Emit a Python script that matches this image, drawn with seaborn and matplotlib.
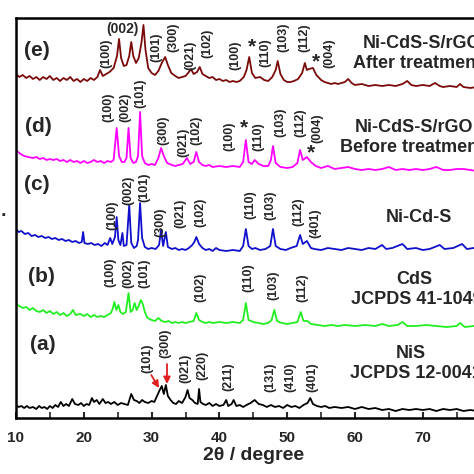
import matplotlib
matplotlib.use("Agg")
import matplotlib.pyplot as plt
import seaborn as sns
import numpy as np

# ---------------- data (arbitrary stacked intensity) ----------------
tt_e = [10.0,10.5,11.0,11.5,12.0,12.5,13.0,13.5,14.0,14.5,15.0,15.5,16.0,16.5,17.0,17.5,18.0,18.5,19.0,19.5,
        20.0,20.5,21.0,21.5,22.0,22.4,22.8,23.3,23.8,24.4,24.9,25.2,25.5,25.9,26.3,26.7,27.0,27.3,27.7,28.1,
        28.5,28.8,29.1,29.5,30.0,30.5,31.0,31.5,32.0,32.4,32.9,33.5,34.0,34.5,35.0,35.5,35.8,36.2,36.7,37.1,
        37.5,38.0,38.5,39.0,39.5,40.0,40.5,41.0,41.5,42.0,42.5,43.0,43.6,44.0,44.4,44.8,45.3,46.0,46.6,47.2,
        47.8,48.3,48.6,49.0,49.5,50.0,50.5,51.0,51.6,52.2,52.6,52.9,53.2,53.8,54.3,55.0,55.5,56.0,56.5,57.0,
        57.5,58.0,58.5,59.0,59.5,60.0,61.0,62.0,63.0,64.0,65.0,66.0,67.0,67.7,68.3,69.0,70.0,71.0,71.8,72.5,
        73.0,74.0,75.0,75.5,76.0,77.0,78.0,79.0,80.0]
int_e = [344,341,343,340,342,339,341,338,341,339,342,338,340,337,340,338,341,337,339,336,
         339,337,340,338,341,348,342,344,346,350,362,379,360,352,353,362,376,362,355,360,
         375,393,368,350,345,343,347,355,361,353,345,342,340,341,342,346,349,344,346,351,
         344,342,340,341,338,339,337,338,336,337,336,337,341,348,361,345,340,341,338,337,
         341,348,357,344,338,336,336,337,339,345,355,348,349,350,343,338,336,335,334,335,
         334,335,336,339,335,333,334,332,333,332,333,332,334,337,333,332,333,332,335,332,
         331,332,331,334,331,330,331,330,330]

tt_d = [10.0,10.3,10.7,11.2,11.8,12.5,13.0,13.5,14.0,14.5,15.0,15.5,16.0,16.5,17.0,17.5,18.0,18.5,19.0,19.5,
        20.0,20.5,21.0,21.5,22.0,22.5,23.0,23.5,24.0,24.4,24.85,25.2,25.6,26.0,26.3,26.6,26.9,27.3,27.7,28.0,
        28.3,28.6,29.0,29.5,30.0,30.5,31.0,31.4,31.8,32.3,33.0,33.5,34.0,34.6,35.2,35.7,36.2,36.6,37.0,37.5,
        38.0,38.5,39.0,40.0,41.0,42.0,43.0,43.5,43.9,44.3,44.8,45.2,45.8,46.5,47.2,47.6,47.9,48.3,49.0,50.0,
        50.8,51.5,51.9,52.3,52.9,53.5,54.2,55.0,56.0,57.0,58.0,59.0,60.0,61.0,62.0,63.0,64.0,65.0,66.0,67.0,
        68.0,69.0,70.0,71.0,72.0,73.0,74.0,75.0,76.0,77.0,78.0,79.0,80.0]
int_d = [268,266,264,262,261,260,261,259,260,258,259,258,259,257,258,256,258,256,257,255,
         257,255,256,258,256,257,255,257,256,258,290,262,256,256,260,290,260,255,256,262,
         306,262,255,253,254,253,260,270,262,255,253,252,253,254,260,254,256,266,256,253,
         252,253,251,252,251,252,251,256,278,256,254,258,254,252,252,258,272,255,251,250,
         251,255,268,258,261,256,252,250,252,249,250,251,249,248,249,248,249,251,248,249,
         248,249,248,249,251,248,248,249,249,248,247,248,247]

tt_c = [10.0,10.4,10.8,11.3,11.8,12.3,12.8,13.3,13.8,14.3,14.8,15.3,15.8,16.3,16.8,17.3,17.8,18.3,18.8,19.3,
        19.7,19.9,20.1,20.6,21.1,21.6,22.1,22.6,23.1,23.5,23.9,24.2,24.6,24.85,25.1,25.4,25.7,25.9,26.3,26.7,
        27.0,27.4,27.8,28.0,28.3,28.6,29.0,29.5,30.0,30.6,31.1,31.4,31.7,32.1,32.4,33.0,33.5,34.0,34.5,35.0,
        35.5,36.0,36.3,36.6,37.0,37.5,38.0,38.5,39.0,39.5,40.0,41.0,42.0,43.0,43.5,43.9,44.3,44.8,45.3,46.0,
        46.8,47.5,47.9,48.3,49.0,49.8,50.5,51.4,51.9,52.3,52.9,53.5,54.0,55.0,56.0,57.0,58.0,59.0,60.0,61.0,
        62.0,63.0,64.0,64.6,65.5,67.0,67.7,69.0,70.0,71.0,72.5,73.2,74.5,75.8,76.5,77.5,78.5,80.0]
int_c = [189,186,187,184,185,182,183,181,182,180,181,179,180,178,179,177,178,176,177,175,
         176,186,175,174,175,173,174,172,175,173,180,174,181,201,178,173,185,172,173,213,
         175,170,172,178,215,180,171,169,170,169,173,188,172,186,171,169,170,168,169,168,
         170,173,176,181,174,170,168,169,167,170,168,167,168,167,172,189,172,169,170,168,
         169,172,189,172,169,168,170,172,183,174,177,170,169,168,170,169,168,170,169,168,
         170,169,173,169,170,174,169,170,168,169,173,169,170,174,169,170,169,169]

tt_b = [10.0,10.5,11.0,11.5,12.0,12.5,13.0,13.5,14.0,14.5,15.0,15.5,16.0,16.5,17.0,17.5,18.0,18.4,18.8,19.5,
        20.0,20.5,21.0,21.5,22.0,22.5,23.0,23.5,24.0,24.3,24.5,24.8,25.1,25.4,25.8,26.2,26.6,26.9,27.2,27.5,
        27.8,28.1,28.4,28.7,29.0,29.4,30.0,30.5,31.0,31.5,32.0,32.5,33.0,33.5,34.0,34.5,35.0,35.5,36.2,36.6,
        37.0,37.5,38.0,38.5,39.0,40.0,41.0,42.0,43.0,43.5,43.9,44.3,45.0,45.8,46.5,47.2,47.7,48.1,48.5,49.2,
        50.0,50.8,51.5,52.0,52.4,53.0,53.5,54.5,55.5,56.5,57.5,58.5,60.0,61.5,63.0,64.0,65.0,66.3,67.0,67.7,
        69.0,70.5,72.0,73.5,75.0,75.5,76.2,77.5,79.0,80.0]
int_b = [114,112,110,111,108,110,107,106,108,105,107,104,106,103,105,102,104,108,103,104,
         102,104,101,103,101,102,101,103,105,110,116,108,113,106,104,106,125,106,108,115,
         108,112,118,114,106,100,98,97,100,97,96,97,95,96,95,96,95,96,97,105,
         98,96,95,96,95,96,95,96,95,98,115,98,96,95,94,95,98,108,97,95,
         94,95,96,106,97,97,94,93,92,93,92,93,92,93,92,94,92,93,96,92,
         92,93,92,91,92,95,91,92,91,91]

tt_a = [10.0,10.4,10.8,11.2,11.6,12.0,12.5,13.0,13.4,13.8,14.2,14.6,15.0,15.4,15.8,16.2,16.6,17.0,17.4,17.8,
        18.3,18.7,19.2,19.6,20.0,20.4,20.8,21.2,21.5,21.9,22.3,22.8,23.2,23.6,24.0,24.5,25.0,25.5,26.0,26.5,
        27.0,27.4,27.8,28.2,28.6,29.0,29.5,30.0,30.4,30.8,31.2,31.5,31.8,32.1,32.4,32.8,33.2,33.6,34.0,34.5,
        35.0,35.3,35.6,36.0,36.4,36.8,37.0,37.2,37.6,38.0,38.5,39.0,39.5,40.0,40.6,41.0,41.3,41.8,42.1,42.5,
        43.0,43.5,44.0,44.6,45.2,45.8,46.4,47.0,47.6,48.2,48.8,49.4,50.0,50.6,51.2,51.8,52.4,53.0,53.4,53.8,
        54.4,55.0,55.6,56.2,57.0,58.0,59.0,60.0,61.0,62.0,63.0,64.0,65.0,66.0,67.0,68.0,69.0,70.0,71.0,72.0,
        73.0,74.0,75.0,76.0,77.0,78.0,79.0,80.0]
int_a = [13,11,12,10,12,10,11,9,12,10,11,9,12,10,13,11,16,12,14,12,
         19,14,13,15,12,14,13,20,16,18,14,19,15,16,14,16,13,15,14,13,
         24,18,17,15,18,16,15,17,16,22,28,32,24,33,22,18,15,14,17,15,
         21,28,20,18,15,14,29,16,14,13,15,12,14,12,13,18,12,14,18,12,
         13,11,13,15,18,14,13,11,13,11,12,10,13,11,12,10,13,15,20,14,
         12,11,12,10,11,10,11,9,11,9,10,8,9,7,9,8,9,8,9,7,
         9,8,9,7,8,7,8,7]

series_colors = ["#000000", "#22EE22", "#1010CC", "#FF00FF", "#7A0A0A"]

panel_tags = ["(a)", "(b)", "(c)", "(d)", "(e)"]
sample_lines = [["NiS", "JCPDS 12-0041"],
                ["CdS", "JCPDS 41-1049"],
                ["Ni-Cd-S"],
                ["Ni-CdS-S/rGO", "Before treatment"],
                ["Ni-CdS-S/rGO", "After treatment"]]

# Miller index labels: (text, 2theta, y)
hkl_a = [("(101)", 29.32, 60), ("(300)", 31.98, 75), ("(021)", 34.93, 50), ("(220)", 37.43, 53),
         ("(211)", 41.27, 41), ("(131)", 47.46, 41), ("(410)", 50.41, 41), ("(401)", 53.66, 41)]
hkl_b = [("(100)", 23.86, 146), ("(002)", 26.52, 145), ("(101)", 28.88, 145), ("(102)", 37.14, 131),
         ("(110)", 44.22, 140), ("(103)", 47.91, 133), ("(112)", 52.18, 130)]
hkl_c = [("(100)", 24.26, 203), ("(002)", 26.52, 228), ("(101)", 28.88, 231), ("(300)", 31.24, 196),
         ("(021)", 34.19, 205), ("(102)", 37.14, 206), ("(110)", 44.51, 213), ("(103)", 47.46, 213),
         ("(112)", 51.59, 206), ("(401)", 54.10, 195)]
hkl_d = [("(100)", 23.57, 311), ("(002)", 26.08, 311), ("(101)", 28.29, 325), ("(300)", 31.73, 288),
         ("(021)", 34.68, 276), ("(102)", 36.65, 288), ("(100)", 41.42, 282), ("(110)", 45.69, 281),
         ("(103)", 48.94, 296), ("(112)", 51.89, 295), ("(004)", 54.40, 290)]
hkl_e = [("(100)", 23.38, 365), ("(101)", 30.65, 371), ("(300)", 33.16, 381), ("(021)", 35.66, 363),
         ("(102)", 38.17, 375), ("(100)", 42.30, 363), ("(110)", 46.73, 365), ("(103)", 49.38, 381),
         ("(112)", 52.48, 380), ("(004)", 56.17, 365)]
stars = [(44.76, 371), (54.25, 356), (43.63, 290), (53.50, 265)]

x_ticks = [10, 20, 30, 40, 50, 60, 70]

# ---------------- figure ----------------
sns.set_theme(style="ticks")
plt.rcParams["font.family"] = ["Liberation Sans", "DejaVu Sans"]

W = H = 474
fig = plt.figure(figsize=(W / 100, H / 100), dpi=100)
ax_left, ax_bottom = 16 / W, (H - 418) / H
ax_w, ax_h = (490.6 - 16) / W, 400 / H
ax = fig.add_axes([ax_left, ax_bottom, ax_w, ax_h])

all_tt = [tt_a, tt_b, tt_c, tt_d, tt_e]
all_int = [int_a, int_b, int_c, int_d, int_e]
for tt, yi, col in zip(all_tt, all_int, series_colors):
    sns.lineplot(x=tt, y=yi, ax=ax, color=col, lw=1.3, estimator=None, sort=False)

ax.set_xlim(10, 80)
ax.set_ylim(0, 400)
ax.set_yticks([])
ax.set_xticks(x_ticks)
ax.set_xticks(np.arange(15, 80, 10), minor=True)
ax.tick_params(axis="x", which="major", direction="in", length=4, width=1.5, pad=9,
               labelsize=11, top=False)
ax.tick_params(axis="x", which="minor", direction="in", length=4, width=1.2, top=False)
for lab in ax.get_xticklabels():
    lab.set_fontweight("bold")
for sp in ax.spines.values():
    sp.set_visible(True)
    sp.set_linewidth(1.8)
    sp.set_color("black")
ax.set_xlabel("2θ / degree", fontsize=14, fontweight="bold", labelpad=2)
ax.set_ylabel("")

# panel tags
tag_pos = [(12.0, 73), (11.7, 141), (11.2, 233), (11.3, 291), (11.2, 368)]
for t, (x, y) in zip(panel_tags, tag_pos):
    ax.text(x, y, t, fontsize=15, fontweight="bold", ha="left", va="center")

# sample names
name_pos = [[(66.0, 65), (59.26, 45)],
            [(66.05, 138), (59.41, 118)],
            [(64.57, 201)],
            [(60.0, 291), (57.79, 271)],
            [(61.18, 375), (59.70, 355)]]
for lines, poss in zip(sample_lines, name_pos):
    for s, (x, y) in zip(lines, poss):
        ax.text(x, y, s, fontsize=13, fontweight="bold", ha="left", va="center")

# hkl labels
for group in [hkl_a, hkl_b, hkl_c, hkl_d, hkl_e]:
    for s, x, y in group:
        ax.text(x, y, s, fontsize=9, fontweight="bold", rotation=90, ha="center", va="center")
ax.text(25.74, 389, "(002)", fontsize=10, fontweight="bold", ha="center", va="center")
for x, y in stars:
    ax.text(x, y, "*", fontsize=15, fontweight="bold", ha="center", va="center")

# red arrows on NiS
ax.annotate("", xy=(31.09, 30), xytext=(29.95, 43),
            arrowprops=dict(arrowstyle="-|>", color="#E02020", lw=1.3, mutation_scale=10,
                            shrinkA=0, shrinkB=0))
ax.annotate("", xy=(32.27, 34), xytext=(32.27, 54),
            arrowprops=dict(arrowstyle="-|>", color="#E02020", lw=1.3, mutation_scale=10,
                            shrinkA=0, shrinkB=0))

fig.text(3 / W, 1 - 211 / H, ".", fontsize=14, fontweight="bold", ha="center", va="center")

fig.savefig("out.png", dpi=100)
